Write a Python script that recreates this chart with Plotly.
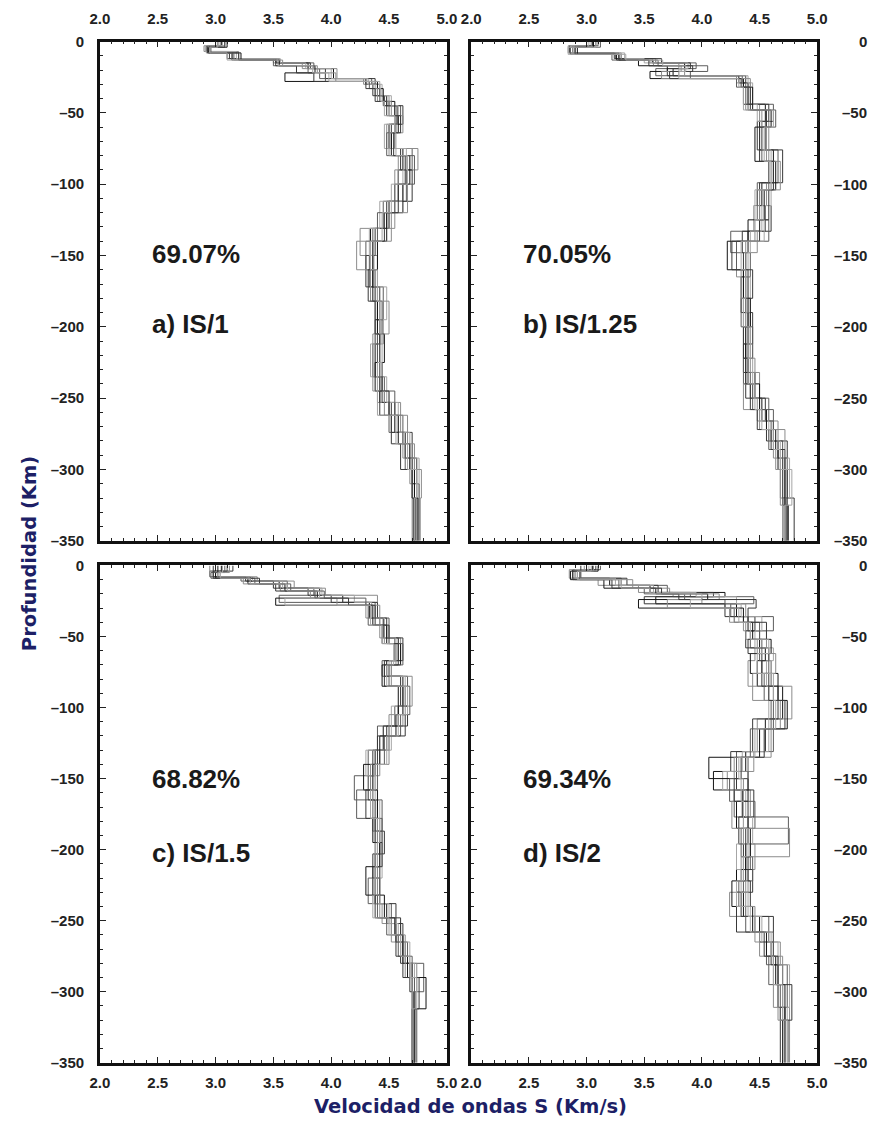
import plotly.graph_objects as go

# ---------------- data ----------------
x_ticks = [2.0, 2.5, 3.0, 3.5, 4.0, 4.5, 5.0]
y_ticks = [0, -50, -100, -150, -200, -250, -300, -350]
y_tick_text = ["0", "–50", "–100", "–150", "–200", "–250", "–300", "–350"]
max_depth = 350

panel_labels = ["a) IS/1", "b) IS/1.25", "c) IS/1.5", "d) IS/2"]
panel_fits = ["69.07%", "70.05%", "68.82%", "69.34%"]

# panel a
a_dA = [0, 3, 7, 12, 15, 19, 26, 30, 38, 45, 58, 75, 90, 112, 131, 150, 172, 195, 212, 235, 253, 274, 292, 310]
a_vA1 = [3.05, 2.92, 3.15, 3.52, 3.80, 4.02, 4.30, 4.40, 4.48, 4.57, 4.50, 4.62, 4.58, 4.50, 4.34, 4.36, 4.40, 4.42, 4.38, 4.42, 4.55, 4.64, 4.70, 4.72]
a_vA2 = [3.00, 2.95, 3.10, 3.55, 3.85, 3.90, 4.35, 4.42, 4.45, 4.60, 4.55, 4.70, 4.65, 4.45, 4.36, 4.33, 4.45, 4.40, 4.36, 4.46, 4.50, 4.66, 4.72, 4.74]
a_vA3 = [3.08, 2.90, 3.20, 3.50, 3.75, 4.05, 4.28, 4.38, 4.50, 4.55, 4.48, 4.75, 4.55, 4.55, 4.25, 4.40, 4.38, 4.45, 4.42, 4.40, 4.60, 4.62, 4.68, 4.70]
a_vA4 = [3.02, 2.93, 3.12, 3.53, 3.82, 3.95, 4.38, 4.36, 4.46, 4.62, 4.52, 4.60, 4.70, 4.48, 4.38, 4.30, 4.42, 4.38, 4.40, 4.44, 4.52, 4.70, 4.74, 4.76]
a_vA5 = [3.06, 2.91, 3.18, 3.56, 3.78, 4.00, 4.32, 4.44, 4.52, 4.58, 4.46, 4.65, 4.62, 4.42, 4.33, 4.37, 4.48, 4.43, 4.34, 4.48, 4.58, 4.68, 4.76, 4.74]
a_dB = [0, 4, 8, 13, 17, 22, 28, 33, 42, 52, 64, 80, 100, 120, 140, 160, 182, 205, 225, 245, 262, 282, 300, 320]
a_vB1 = [3.10, 2.94, 3.22, 3.55, 3.86, 3.60, 4.40, 4.45, 4.55, 4.58, 4.52, 4.68, 4.62, 4.48, 4.40, 4.36, 4.40, 4.46, 4.38, 4.50, 4.58, 4.68, 4.72, 4.75]
a_vB2 = [3.00, 2.96, 3.14, 3.50, 3.80, 3.95, 4.33, 4.42, 4.50, 4.56, 4.48, 4.72, 4.55, 4.40, 4.30, 4.38, 4.44, 4.40, 4.42, 4.55, 4.62, 4.64, 4.70, 4.73]
a_vB3 = [3.04, 2.92, 3.16, 3.58, 3.88, 4.04, 4.36, 4.40, 4.52, 4.62, 4.50, 4.58, 4.66, 4.52, 4.22, 4.34, 4.50, 4.36, 4.36, 4.46, 4.66, 4.72, 4.78, 4.77]
a_vB4 = [3.08, 2.93, 3.20, 3.52, 3.70, 3.85, 4.30, 4.38, 4.48, 4.60, 4.54, 4.64, 4.58, 4.46, 4.36, 4.32, 4.38, 4.42, 4.44, 4.42, 4.52, 4.60, 4.70, 4.71]
a_vB5 = [3.02, 2.95, 3.10, 3.54, 3.84, 3.98, 4.42, 4.43, 4.46, 4.55, 4.56, 4.66, 4.52, 4.44, 4.34, 4.40, 4.42, 4.44, 4.40, 4.40, 4.56, 4.66, 4.74, 4.72]

# panel b
b_dA = [0, 3, 8, 12, 15, 19, 24, 29, 44, 56, 76, 99, 115, 133, 148, 165, 190, 212, 232, 250, 266, 280, 292, 320]
b_vA1 = [3.05, 2.85, 3.28, 3.57, 3.85, 3.75, 4.32, 4.40, 4.55, 4.50, 4.62, 4.52, 4.50, 4.40, 4.38, 4.38, 4.40, 4.38, 4.46, 4.52, 4.62, 4.66, 4.70, 4.72]
b_vA2 = [3.10, 2.88, 3.25, 3.60, 3.95, 3.60, 4.35, 4.38, 4.62, 4.55, 4.66, 4.48, 4.55, 4.25, 4.42, 4.36, 4.42, 4.40, 4.42, 4.58, 4.60, 4.70, 4.74, 4.73]
b_vA3 = [3.00, 2.84, 3.30, 3.55, 3.80, 3.85, 4.30, 4.42, 4.50, 4.58, 4.58, 4.56, 4.45, 4.48, 4.30, 4.40, 4.36, 4.42, 4.50, 4.48, 4.66, 4.62, 4.68, 4.71]
b_vA4 = [3.08, 2.90, 3.24, 3.65, 3.90, 3.70, 4.38, 4.36, 4.58, 4.48, 4.70, 4.50, 4.60, 4.35, 4.36, 4.34, 4.44, 4.36, 4.38, 4.55, 4.56, 4.74, 4.72, 4.80]
b_vA5 = [3.02, 2.86, 3.33, 3.50, 3.88, 3.80, 4.40, 4.44, 4.48, 4.52, 4.60, 4.60, 4.52, 4.42, 4.40, 4.42, 4.38, 4.44, 4.44, 4.50, 4.58, 4.68, 4.76, 4.72]
b_dB = [0, 4, 9, 13, 17, 21, 26, 32, 48, 60, 84, 104, 125, 140, 160, 180, 200, 222, 240, 258, 272, 286, 300, 325]
b_vB1 = [3.06, 2.92, 3.26, 3.45, 3.70, 3.55, 4.36, 4.44, 4.60, 4.46, 4.64, 4.54, 4.40, 4.22, 4.36, 4.42, 4.38, 4.40, 4.50, 4.56, 4.64, 4.66, 4.72, 4.74]
b_vB2 = [3.12, 2.86, 3.22, 3.62, 4.05, 3.90, 4.30, 4.40, 4.64, 4.52, 4.58, 4.48, 4.58, 4.30, 4.40, 4.34, 4.44, 4.36, 4.44, 4.62, 4.58, 4.70, 4.70, 4.73]
b_vB3 = [3.04, 2.88, 3.30, 3.58, 3.82, 3.65, 4.42, 4.38, 4.52, 4.56, 4.68, 4.50, 4.46, 4.38, 4.34, 4.38, 4.40, 4.46, 4.36, 4.50, 4.72, 4.64, 4.68, 4.70]
b_vB4 = [3.00, 2.90, 3.28, 3.54, 3.92, 3.72, 4.34, 4.42, 4.56, 4.50, 4.62, 4.58, 4.50, 4.26, 4.44, 4.40, 4.36, 4.38, 4.42, 4.48, 4.60, 4.72, 4.74, 4.75]
b_vB5 = [3.08, 2.84, 3.34, 3.66, 3.86, 3.80, 4.32, 4.36, 4.62, 4.54, 4.60, 4.46, 4.54, 4.34, 4.38, 4.36, 4.42, 4.40, 4.46, 4.52, 4.62, 4.68, 4.78, 4.72]

# panel c
c_dA = [0, 4, 8, 11, 16, 21, 26, 37, 51, 67, 78, 99, 113, 130, 148, 165, 187, 203, 220, 238, 252, 265, 280, 300]
c_vA1 = [3.05, 3.00, 3.30, 3.55, 3.90, 4.10, 4.33, 4.45, 4.58, 4.48, 4.62, 4.58, 4.45, 4.38, 4.34, 4.40, 4.42, 4.38, 4.38, 4.48, 4.56, 4.62, 4.70, 4.72]
c_vA2 = [3.10, 2.95, 3.22, 3.62, 3.85, 3.55, 4.38, 4.50, 4.55, 4.44, 4.66, 4.55, 4.40, 4.32, 4.20, 4.44, 4.40, 4.40, 4.32, 4.52, 4.60, 4.66, 4.80, 4.70]
c_vA3 = [2.95, 3.02, 3.36, 3.68, 3.95, 4.40, 4.30, 4.42, 4.60, 4.52, 4.70, 4.62, 4.50, 4.42, 4.36, 4.36, 4.44, 4.42, 4.40, 4.44, 4.52, 4.64, 4.74, 4.73]
c_vA4 = [3.15, 2.98, 3.26, 3.50, 3.80, 4.00, 4.40, 4.48, 4.62, 4.46, 4.60, 4.66, 4.48, 4.36, 4.32, 4.38, 4.46, 4.36, 4.42, 4.56, 4.62, 4.60, 4.68, 4.71]
c_vA5 = [3.00, 3.04, 3.32, 3.58, 3.92, 4.20, 4.35, 4.46, 4.56, 4.50, 4.64, 4.52, 4.52, 4.30, 4.38, 4.42, 4.38, 4.44, 4.36, 4.50, 4.58, 4.68, 4.72, 4.70]
c_dB = [0, 5, 9, 13, 18, 23, 28, 42, 55, 70, 85, 105, 120, 140, 158, 178, 195, 212, 232, 248, 260, 275, 290, 312]
c_vB1 = [3.02, 3.00, 3.28, 3.60, 3.88, 3.52, 4.36, 4.48, 4.60, 4.44, 4.58, 4.56, 4.42, 4.28, 4.40, 4.36, 4.42, 4.30, 4.46, 4.55, 4.62, 4.66, 4.82, 4.70]
c_vB2 = [3.08, 2.96, 3.34, 3.65, 3.94, 4.30, 4.32, 4.44, 4.62, 4.50, 4.68, 4.60, 4.46, 4.40, 4.22, 4.44, 4.40, 4.42, 4.40, 4.48, 4.58, 4.70, 4.72, 4.74]
c_vB3 = [3.12, 3.02, 3.24, 3.56, 3.82, 4.05, 4.42, 4.46, 4.56, 4.52, 4.64, 4.50, 4.50, 4.34, 4.36, 4.40, 4.38, 4.40, 4.42, 4.52, 4.64, 4.64, 4.70, 4.71]
c_vB4 = [2.98, 2.98, 3.38, 3.52, 3.86, 4.15, 4.38, 4.50, 4.58, 4.46, 4.62, 4.64, 4.40, 4.36, 4.30, 4.38, 4.44, 4.36, 4.38, 4.60, 4.56, 4.62, 4.76, 4.72]
c_vB5 = [3.06, 3.04, 3.30, 3.62, 3.90, 3.60, 4.34, 4.44, 4.54, 4.48, 4.66, 4.58, 4.48, 4.38, 4.34, 4.42, 4.40, 4.38, 4.36, 4.50, 4.60, 4.68, 4.74, 4.70]

# panel d
d_dA = [0, 3, 9, 14, 19, 22, 27, 36, 46, 58, 67, 85, 108, 131, 145, 158, 177, 196, 214, 230, 247, 265, 281, 311]
d_vA1 = [3.05, 2.88, 3.20, 3.55, 4.20, 3.60, 4.30, 4.40, 4.50, 4.55, 4.48, 4.70, 4.55, 4.38, 4.10, 4.35, 4.40, 4.38, 4.30, 4.36, 4.50, 4.62, 4.66, 4.72]
d_vA2 = [3.12, 2.92, 3.30, 3.70, 3.90, 4.45, 4.25, 4.62, 4.42, 4.50, 4.60, 4.62, 4.62, 4.30, 4.40, 4.28, 4.75, 4.42, 4.36, 4.30, 4.58, 4.56, 4.74, 4.70]
d_vA3 = [2.98, 2.85, 3.10, 3.45, 3.75, 4.00, 4.38, 4.36, 4.56, 4.46, 4.40, 4.78, 4.48, 4.45, 4.22, 4.42, 4.36, 4.46, 4.40, 4.24, 4.46, 4.68, 4.62, 4.76]
d_vA4 = [3.08, 2.95, 3.35, 3.62, 4.10, 3.50, 4.20, 4.46, 4.38, 4.58, 4.52, 4.66, 4.44, 4.25, 4.30, 4.45, 4.32, 4.36, 4.44, 4.34, 4.62, 4.60, 4.70, 4.68]
d_vA5 = [3.02, 2.90, 3.25, 3.58, 3.95, 4.30, 4.34, 4.52, 4.46, 4.62, 4.56, 4.58, 4.58, 4.35, 4.18, 4.38, 4.44, 4.30, 4.34, 4.40, 4.52, 4.66, 4.76, 4.74]
d_dB = [0, 4, 10, 16, 20, 24, 30, 40, 52, 62, 76, 95, 115, 135, 150, 166, 185, 205, 222, 240, 258, 275, 295, 320]
d_vB1 = [3.10, 2.86, 3.15, 3.60, 4.05, 3.45, 4.36, 4.44, 4.60, 4.42, 4.66, 4.74, 4.50, 4.06, 4.40, 4.30, 4.42, 4.38, 4.26, 4.44, 4.56, 4.64, 4.72, 4.70]
d_vB2 = [3.00, 2.94, 3.28, 3.50, 3.85, 4.20, 4.28, 4.50, 4.52, 4.58, 4.54, 4.60, 4.42, 4.40, 4.24, 4.46, 4.34, 4.44, 4.32, 4.38, 4.62, 4.58, 4.68, 4.72]
d_vB3 = [3.06, 2.90, 3.40, 3.72, 4.15, 3.70, 4.24, 4.38, 4.48, 4.64, 4.44, 4.68, 4.60, 4.28, 4.36, 4.26, 4.76, 4.34, 4.38, 4.46, 4.50, 4.70, 4.66, 4.75]
d_vB4 = [2.95, 2.88, 3.22, 3.65, 3.80, 4.47, 4.40, 4.56, 4.40, 4.52, 4.58, 4.72, 4.54, 4.34, 4.28, 4.40, 4.38, 4.40, 4.42, 4.30, 4.54, 4.66, 4.78, 4.70]
d_vB5 = [3.04, 2.92, 3.30, 3.55, 4.00, 3.90, 4.32, 4.42, 4.58, 4.48, 4.62, 4.64, 4.46, 4.32, 4.34, 4.36, 4.40, 4.36, 4.30, 4.42, 4.60, 4.62, 4.70, 4.74]

panels = [
    [(a_dA, a_vA1), (a_dA, a_vA2), (a_dA, a_vA3), (a_dA, a_vA4), (a_dA, a_vA5),
     (a_dB, a_vB1), (a_dB, a_vB2), (a_dB, a_vB3), (a_dB, a_vB4), (a_dB, a_vB5)],
    [(b_dA, b_vA1), (b_dA, b_vA2), (b_dA, b_vA3), (b_dA, b_vA4), (b_dA, b_vA5),
     (b_dB, b_vB1), (b_dB, b_vB2), (b_dB, b_vB3), (b_dB, b_vB4), (b_dB, b_vB5)],
    [(c_dA, c_vA1), (c_dA, c_vA2), (c_dA, c_vA3), (c_dA, c_vA4), (c_dA, c_vA5),
     (c_dB, c_vB1), (c_dB, c_vB2), (c_dB, c_vB3), (c_dB, c_vB4), (c_dB, c_vB5)],
    [(d_dA, d_vA1), (d_dA, d_vA2), (d_dA, d_vA3), (d_dA, d_vA4), (d_dA, d_vA5),
     (d_dB, d_vB1), (d_dB, d_vB2), (d_dB, d_vB3), (d_dB, d_vB4), (d_dB, d_vB5)],
]

# ---------------- styling / layout ----------------
W, H = 880, 1122
line_colors = ["#141414", "#5c5c5c", "#8c8c8c", "#383838", "#a6a6a6"]
navy = "#1d1f66"
tick_font = dict(family="Liberation Sans, Arial, sans-serif", size=15, color="#222222", weight="bold")

# pixel boxes of the four panels (left, right, top, bottom)
boxes = [(92, 447, 33, 540), (472, 826, 33, 540), (92, 447, 565, 1070), (472, 826, 565, 1070)]

fig = go.Figure()
for p, models in enumerate(panels):
    xa = "x" if p == 0 else f"x{p+1}"
    ya = "y" if p == 0 else f"y{p+1}"
    for m, (depths, vels) in enumerate(models):
        fig.add_trace(go.Scatter(
            x=list(vels) + [vels[-1]],
            y=[-d for d in depths] + [-max_depth],
            mode="lines", line=dict(color=line_colors[m % len(line_colors)], width=1, shape="vh"),
            xaxis=xa, yaxis=ya, showlegend=False, hoverinfo="skip"))

layout = dict(width=W, height=H, margin=dict(l=0, r=0, t=0, b=0),
              paper_bgcolor="white", plot_bgcolor="white", showlegend=False)

for p, (l, r, t, b) in enumerate(boxes):
    sfx = "" if p == 0 else str(p + 1)
    right_side = p in (1, 3)
    layout["xaxis" + sfx] = dict(
        domain=[l / W, r / W], anchor="y" + sfx, range=[2.0, 5.0],
        side="top" if p < 2 else "bottom",
        tickvals=x_ticks, ticktext=[f"{v:.1f}" for v in x_ticks],
        ticks="inside", ticklen=6, tickwidth=1.2, tickcolor="#222",
        minor=dict(dtick=0.1, ticks="inside", ticklen=3, tickcolor="#222", tickwidth=1),
        showline=True, linecolor="#111", linewidth=2.5, mirror="allticks",
        ticklabelstandoff=9 if p < 2 else 4,
        showgrid=False, zeroline=False, tickfont=tick_font, fixedrange=True)
    layout["yaxis" + sfx] = dict(
        domain=[1 - b / H, 1 - t / H], anchor="x" + sfx, range=[-max_depth, 0],
        side="right" if right_side else "left",
        tickvals=y_ticks, ticktext=y_tick_text, showticklabels=not right_side,
        ticks="inside", ticklen=6, tickwidth=1.2, tickcolor="#222",
        minor=dict(dtick=10, ticks="inside", ticklen=3, tickcolor="#222", tickwidth=1),
        showline=True, linecolor="#111", linewidth=2.5, mirror="allticks",
        ticklabelstandoff=10,
        showgrid=False, zeroline=False, tickfont=tick_font, fixedrange=True)

fig.update_layout(**layout)

# right-hand depth labels (right-aligned, placed on the panel's own y scale)
for p in (1, 3):
    ya = f"y{p+1}"
    for v, txt in zip(y_ticks, y_tick_text):
        fig.add_annotation(x=879 / W, y=v, xref="paper", yref=ya, text=txt, showarrow=False,
                           xanchor="right", yanchor="middle", font=tick_font)

ann_font = dict(family="Liberation Sans, Arial, sans-serif", size=26, color="#1a1a1a", weight="bold")
text_pos = [(143, 249, 320), (523, 249, 320), (143, 782, 857), (523, 782, 857)]
for p, (tx, ty1, ty2) in enumerate(text_pos):
    fig.add_annotation(x=tx / W, y=1 - ty1 / H, xref="paper", yref="paper", text=panel_fits[p],
                       showarrow=False, xanchor="left", yanchor="middle", font=ann_font)
    fig.add_annotation(x=tx / W, y=1 - ty2 / H, xref="paper", yref="paper", text=panel_labels[p],
                       showarrow=False, xanchor="left", yanchor="middle", font=ann_font)

title_font = dict(family="DejaVu Sans, sans-serif", size=19.5, color=navy, weight="bold")
fig.add_annotation(x=20 / W, y=1 - 553 / H, xref="paper", yref="paper", text="Profundidad (Km)",
                   textangle=-90, showarrow=False, xanchor="center", yanchor="middle", font=title_font)
fig.add_annotation(x=471 / W, y=1 - 1114 / H, xref="paper", yref="paper", text="Velocidad de ondas S (Km/s)",
                   showarrow=False, xanchor="center", yanchor="middle", font=title_font)

fig.write_html("out.html")
